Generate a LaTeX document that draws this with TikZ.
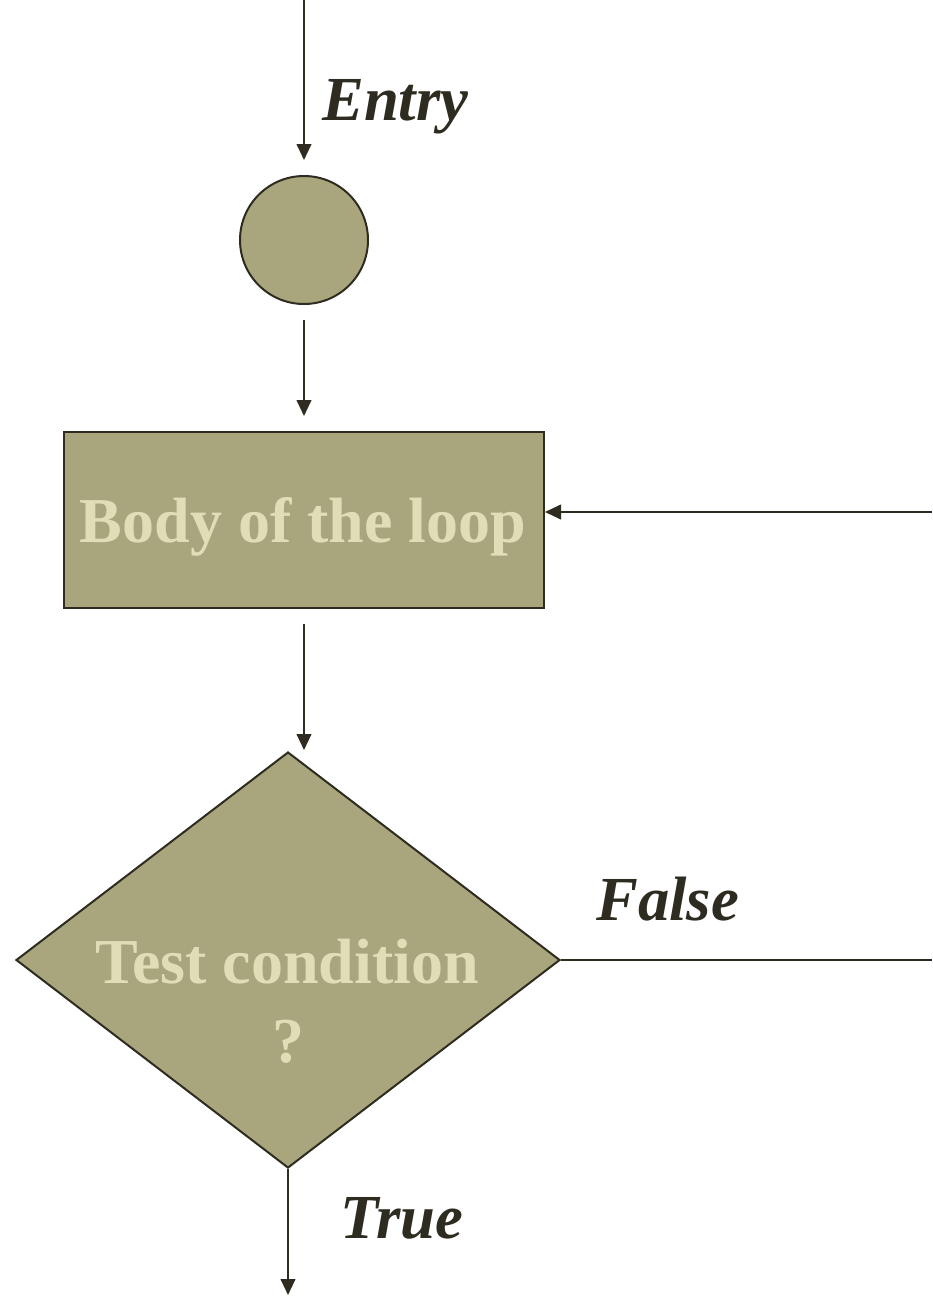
\documentclass[tikz,border=0pt]{standalone}
\usepackage{fontspec}
\setmainfont{Liberation Serif}
\usetikzlibrary{arrows.meta,shapes.geometric}
\definecolor{boxfill}{HTML}{A9A67D}
\definecolor{boxtext}{HTML}{E1DDB7}
\definecolor{ink}{HTML}{2E2B20}
\begin{document}
\begin{tikzpicture}[x=0.75pt,y=-0.75pt,
  flow/.style={draw=ink,line width=1.5pt},
  arr/.style={flow,-{Triangle[length=12pt,width=11pt]}},
  figbox/.style={draw=ink,line width=1.5pt,fill=boxfill,inner sep=0pt},
  intext/.style={text=boxtext,font=\fontsize{48}{56}\selectfont\bfseries},
  lbl/.style={text=ink,font=\fontsize{47}{56}\selectfont\bfseries\itshape,inner sep=0pt}]
\useasboundingbox (0,0) rectangle (932,1296);

% nodes
\coordinate (top) at (304,0);
\node[figbox,circle,minimum size=96pt] (start) at (304,240) {};
\node[figbox,rectangle,minimum width=360pt,minimum height=132pt] (body) at (304,520) {};
\node[intext,anchor=base] (btext) at (303,542) {Body of the loop};
\node[figbox,diamond,minimum width=408pt,minimum height=312pt] (test) at (288,960) {};
\node[intext,anchor=base] (tq1) at (287,983) {Test condition};
\node[intext,anchor=base] (tq2) at (288,1062) {?};
\coordinate (exit) at (288,1295);
\coordinate (back) at (932,960);
\coordinate (backin) at (932,512);

% connectors
\draw[arr] (top) -- (304,160);
\draw[arr] (304,320) -- (304,416);
\draw[arr] (304,624) -- (304,750);
\draw[flow] (test.east) -- (back);
\draw[arr] (backin) -- (body.east |- backin);
\draw[arr] (test.south) -- (exit);

% labels
\node[lbl,anchor=base west] (lentry) at (322,120) {Entry};
\node[lbl,anchor=base west] (lfalse) at (596,920) {False};
\node[lbl,anchor=base west] (ltrue) at (340,1238) {True};
\end{tikzpicture}
\end{document}
